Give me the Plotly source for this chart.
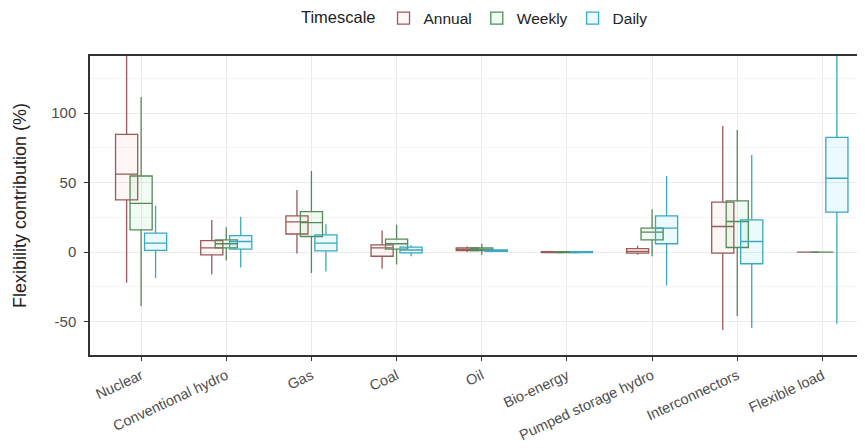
import plotly.graph_objects as go

categories = ["Nuclear", "Conventional hydro", "Gas", "Coal", "Oil",
              "Bio-energy", "Pumped storage hydro", "Interconnectors", "Flexible load"]

series_names = ["Annual", "Weekly", "Daily"]

annual_lower = [-22, -16, -1, -12, 0, -0.5, -2, -56, 0]
annual_q1 = [37.5, -2, 13, -3, 1, -0.3, -0.7, -0.7, 0]
annual_median = [56, 3, 21.7, 3, 2, 0, 0.5, 18.4, 0]
annual_q3 = [84.6, 8.3, 26, 5.2, 3, 0.3, 2.5, 35.9, 0]
annual_upper = [160, 23, 44.7, 15.5, 4, 0.5, 4.5, 90.6, 0]

weekly_lower = [-39, -6, -15, -9, -2, -0.5, -3, -46, 0]
weekly_q1 = [16, 3, 11.2, 2.1, 1, -0.3, 8.8, 3.3, 0]
weekly_median = [35, 6, 21.2, 6, 2, 0, 14.3, 22, 0]
weekly_q3 = [54.7, 8.8, 29.1, 9.3, 3, 0.3, 17.2, 36.8, 0]
weekly_upper = [111.6, 17.9, 58.3, 19.6, 6, 0.5, 30.8, 87.7, 0]

daily_lower = [-18.7, -11, -14, -3, 0, -0.5, -24, -54.5, -51.6]
daily_q1 = [1.2, 2.1, 0.9, -0.5, 0.5, -0.3, 6, -8.4, 28.7]
daily_median = [6.4, 7.6, 6.4, 1.5, 1, 0, 17.2, 7.6, 53.1]
daily_q3 = [13.6, 11.9, 12.4, 3.6, 1.5, 0.3, 26, 23.2, 82.5]
daily_upper = [33.4, 25.5, 20, 5, 2, 0.5, 54.7, 69.8, 160]

y_ticks = [-50, 0, 50, 100]
y_tick_labels = ["-50", "0", "50", "100"]

stats = {
    "Annual": (annual_lower, annual_q1, annual_median, annual_q3, annual_upper),
    "Weekly": (weekly_lower, weekly_q1, weekly_median, weekly_q3, weekly_upper),
    "Daily": (daily_lower, daily_q1, daily_median, daily_q3, daily_upper),
}

line_colors = {"Annual": "#9A5A58", "Weekly": "#55895A", "Daily": "#3AA8BE"}
fill_colors = {"Annual": "rgba(248,118,109,0.06)",
               "Weekly": "rgba(0,186,56,0.06)",
               "Daily": "rgba(0,191,220,0.08)"}
offsets = {"Annual": -0.17, "Weekly": 0.0, "Daily": 0.17}

fig = go.Figure()
for name in series_names:
    lo, q1, med, q3, hi = stats[name]
    xs = [i + offsets[name] for i in range(len(categories))]
    fig.add_trace(go.Box(
        name=name,
        x=xs,
        lowerfence=lo, q1=q1, median=med, q3=q3, upperfence=hi,
        width=0.26,
        whiskerwidth=0,
        boxpoints=False,
        line=dict(color=line_colors[name], width=1.3),
        fillcolor=fill_colors[name],
        hoverinfo="skip",
    ))

font_family = "Liberation Sans, Arial, sans-serif"

# page body has an 8px default margin; figure sized to fit the 865x448 window
fig.update_layout(
    width=857, height=440,
    margin=dict(l=82, r=0, t=48, b=93, autoexpand=False),
    paper_bgcolor="white",
    plot_bgcolor="white",
    boxmode="overlay",
    font=dict(family=font_family, size=15, color="#222"),
    showlegend=True,
    legend=dict(
        orientation="h",
        x=0.498, xanchor="center",
        y=1.125, yanchor="middle",
        title=dict(text="Timescale", font=dict(size=16.5, color="#222")),
        font=dict(size=15.5, color="#222"),
        itemwidth=30,
    ),
    xaxis=dict(
        range=[-0.6, 8.5],
        tickvals=list(range(len(categories))),
        ticktext=categories,
        tickangle=-25,
        tickfont=dict(size=14.5, color="#4D4D4D"),
        showgrid=True, gridcolor="#EBEBEB", gridwidth=1,
        zeroline=False, automargin=False,
        showline=True, linecolor="#333333", linewidth=1.5, mirror=True,
        ticks="outside", ticklen=4, tickcolor="#333333",
        ticklabelstandoff=1,
    ),
    yaxis=dict(
        range=[-74, 141],
        tickvals=y_ticks,
        ticktext=y_tick_labels,
        tickfont=dict(size=15, color="#4D4D4D"),
        title=dict(text="Flexibility contribution (%)", font=dict(size=18, color="#222"), standoff=20),
        showgrid=True, gridcolor="#EBEBEB", gridwidth=1,
        minor=dict(dtick=25, tick0=25, showgrid=True, gridcolor="#F4F4F4", gridwidth=1),
        zeroline=False, automargin=False,
        showline=True, linecolor="#333333", linewidth=1.5, mirror=False,
        ticks="outside", ticklen=4, tickcolor="#333333",
        ticklabelstandoff=5,
    ),
)

fig.write_html("out.html")
